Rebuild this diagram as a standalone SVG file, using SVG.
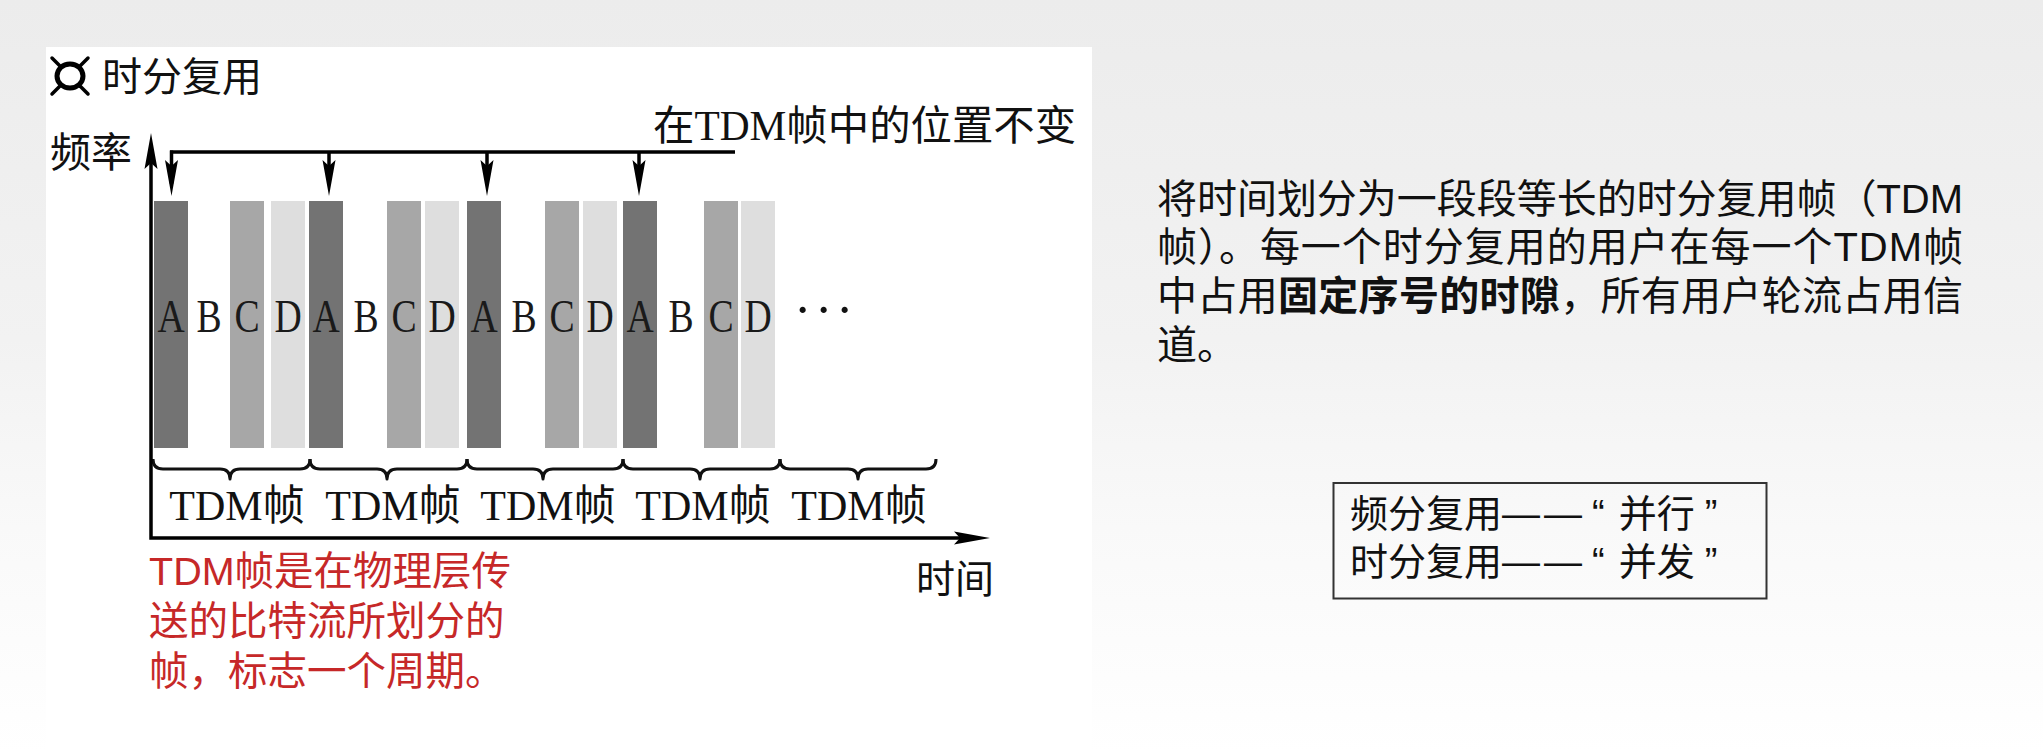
<svg xmlns="http://www.w3.org/2000/svg" width="2043" height="753" viewBox="0 0 2043 753">
  <defs>
    <linearGradient id="bg" x1="0" y1="0" x2="0" y2="1">
      <stop offset="0" stop-color="#ececec"/>
      <stop offset="0.45" stop-color="#f2f2f2"/>
      <stop offset="0.7" stop-color="#f9f9f9"/>
      <stop offset="1" stop-color="#ffffff"/>
    </linearGradient>
    <marker id="head" viewBox="-26 -8 40 16" refX="0" refY="0" markerWidth="40" markerHeight="16" markerUnits="userSpaceOnUse" orient="auto-start-reverse">
      <path d="M12,0 L-24,-6.5 L-18,0 L-24,6.5 Z" fill="#000"/>
    </marker>
    <style>
      .fig { font-family: "Liberation Serif", "Noto Sans CJK SC", serif; fill: #111; }
      .sans { font-family: "Liberation Sans", "Noto Sans CJK SC", sans-serif; fill: #111; }
      .axis { stroke: #000; stroke-width: 3.5; fill: none; }
      .brace { stroke: #111; stroke-width: 3; fill: none; stroke-linejoin: round; }
      .slotA { fill: #737373; }
      .slotC { fill: #a7a7a7; }
      .slotD { fill: #dedede; }
      .slot-label { font-family: "Liberation Serif", serif; font-size: 46px; fill: #1a1a1a; text-anchor: middle; }
      .frame-label { font-family: "Liberation Serif", "Noto Sans CJK SC", serif; font-size: 42px; fill: #111; text-anchor: middle; }
      .note { font-family: "Liberation Sans", "Noto Sans CJK SC", sans-serif; font-size: 39.5px; fill: #c62828; }
      .para { font-family: "Liberation Sans", "Noto Sans CJK SC", sans-serif; font-size: 40px; fill: #111; }
    </style>
  </defs>

  <!-- page background and white figure panel -->
  <rect x="0" y="0" width="2043" height="753" fill="url(#bg)"/>
  <rect x="46" y="47" width="1046" height="706" fill="#ffffff"/>

  <!-- heading with bullet -->
  <g id="heading">
    <g id="bullet" stroke="#000" fill="none">
      <ellipse cx="70" cy="76" rx="13" ry="12" stroke-width="5"/>
      <g stroke-width="3.5" stroke-linecap="round">
        <line x1="52" y1="58" x2="60" y2="66"/>
        <line x1="88" y1="58" x2="80" y2="66"/>
        <line x1="52" y1="94" x2="60" y2="86"/>
        <line x1="88" y1="94" x2="80" y2="86"/>
      </g>
    </g>
    <text class="sans" x="102" y="91" font-size="40">时分复用</text>
  </g>

  <!-- axis labels and caption -->
  <g id="axis-labels">
    <text class="fig" x="50" y="167" font-size="41">频率</text>
    <text class="fig" x="916" y="593" font-size="39">时间</text>
    <text class="fig" x="653" y="140" font-size="41.4">在TDM帧中的位置不变</text>
  </g>

  <!-- time slots -->
  <g id="slots">
    <rect class="slotA" x="154" y="201" width="34" height="247"/>
    <rect class="slotC" x="230" y="201" width="34" height="247"/>
    <rect class="slotD" x="271" y="201" width="34" height="247"/>
    <rect class="slotA" x="309" y="201" width="34" height="247"/>
    <rect class="slotC" x="387" y="201" width="34" height="247"/>
    <rect class="slotD" x="425" y="201" width="34" height="247"/>
    <rect class="slotA" x="467" y="201" width="34" height="247"/>
    <rect class="slotC" x="545" y="201" width="34" height="247"/>
    <rect class="slotD" x="583" y="201" width="34" height="247"/>
    <rect class="slotA" x="623" y="201" width="34" height="247"/>
    <rect class="slotC" x="704" y="201" width="34" height="247"/>
    <rect class="slotD" x="741" y="201" width="34" height="247"/>
  </g>

  <g id="slot-labels">
    <text class="slot-label" transform="translate(171,332) scale(0.82,1)">A</text>
    <text class="slot-label" transform="translate(209,332) scale(0.82,1)">B</text>
    <text class="slot-label" transform="translate(247,332) scale(0.82,1)">C</text>
    <text class="slot-label" transform="translate(288,332) scale(0.82,1)">D</text>
    <text class="slot-label" transform="translate(326,332) scale(0.82,1)">A</text>
    <text class="slot-label" transform="translate(366,332) scale(0.82,1)">B</text>
    <text class="slot-label" transform="translate(404,332) scale(0.82,1)">C</text>
    <text class="slot-label" transform="translate(442,332) scale(0.82,1)">D</text>
    <text class="slot-label" transform="translate(484,332) scale(0.82,1)">A</text>
    <text class="slot-label" transform="translate(524,332) scale(0.82,1)">B</text>
    <text class="slot-label" transform="translate(562,332) scale(0.82,1)">C</text>
    <text class="slot-label" transform="translate(600,332) scale(0.82,1)">D</text>
    <text class="slot-label" transform="translate(640,332) scale(0.82,1)">A</text>
    <text class="slot-label" transform="translate(681,332) scale(0.82,1)">B</text>
    <text class="slot-label" transform="translate(721,332) scale(0.82,1)">C</text>
    <text class="slot-label" transform="translate(758,332) scale(0.82,1)">D</text>
    <text class="fig" x="794 815 836" y="327" font-size="52">···</text>
  </g>

  <!-- frame braces -->
  <g id="frames">
    <path class="brace" d="M153,459 Q153,469 163,469 L220,469 Q230,469 230,479 Q230,469 240,469 L300,469 Q310,469 310,459"/>
    <path class="brace" d="M310,459 Q310,469 320,469 L377,469 Q387,469 387,479 Q387,469 397,469 L457,469 Q467,469 467,459"/>
    <path class="brace" d="M467,459 Q467,469 477,469 L533,469 Q543,469 543,479 Q543,469 553,469 L613,469 Q623,469 623,459"/>
    <path class="brace" d="M623,459 Q623,469 633,469 L690,469 Q700,469 700,479 Q700,469 710,469 L770,469 Q780,469 780,459"/>
    <path class="brace" d="M780,459 Q780,469 790,469 L848,469 Q858,469 858,479 Q858,469 868,469 L926,469 Q936,469 936,459"/>
    <text class="frame-label" x="237" y="520">TDM帧</text>
    <text class="frame-label" x="393" y="520">TDM帧</text>
    <text class="frame-label" x="548" y="520">TDM帧</text>
    <text class="frame-label" x="703" y="520">TDM帧</text>
    <text class="frame-label" x="859" y="520">TDM帧</text>
  </g>

  <!-- axes and position arrows -->
  <g id="connectors">
    <polyline class="axis" points="151,145 151,538 978,538" marker-start="url(#head)" marker-end="url(#head)"/>
    <line class="axis" x1="170" y1="152" x2="735" y2="152"/>
    <line class="axis" x1="171.5" y1="150.5" x2="171.5" y2="184" marker-end="url(#head)"/>
    <line class="axis" x1="329" y1="152" x2="329" y2="184" marker-end="url(#head)"/>
    <line class="axis" x1="487" y1="152" x2="487" y2="184" marker-end="url(#head)"/>
    <line class="axis" x1="639" y1="152" x2="639" y2="184" marker-end="url(#head)"/>
  </g>

  <!-- note under the time axis -->
  <g id="note">
    <text class="note" x="149" y="585">TDM帧是在物理层传</text>
    <text class="note" x="149" y="635">送的比特流所划分的</text>
    <text class="note" x="149" y="685">帧，标志一个周期。</text>
  </g>

  <!-- explanation paragraph -->
  <g id="explanation">
    <text class="para" x="1157" y="213" textLength="806" lengthAdjust="spacing">将时间划分为一段段等长的时分复用帧（TDM</text>
    <text class="para" x="1157" y="261" textLength="806" lengthAdjust="spacing">帧）。每一个时分复用的用户在每一个TDM帧</text>
    <text class="para" x="1157" y="310" textLength="806" lengthAdjust="spacing">中占用<tspan font-weight="bold">固定序号的时隙</tspan>，所有用户轮流占用信</text>
    <text class="para" x="1157" y="359">道。</text>
  </g>

  <!-- comparison box -->
  <g id="comparison">
    <rect x="1333.5" y="483" width="433" height="115.5" fill="none" stroke="#333" stroke-width="2"/>
    <text class="sans" x="1350" y="527" font-size="38">频分复用<tspan letter-spacing="4">—</tspan>—<tspan dx="10">“</tspan><tspan dx="14">并行</tspan><tspan dx="10">”</tspan></text>
    <text class="sans" x="1350" y="575" font-size="38">时分复用<tspan letter-spacing="4">—</tspan>—<tspan dx="10">“</tspan><tspan dx="14">并发</tspan><tspan dx="10">”</tspan></text>
  </g>
</svg>
